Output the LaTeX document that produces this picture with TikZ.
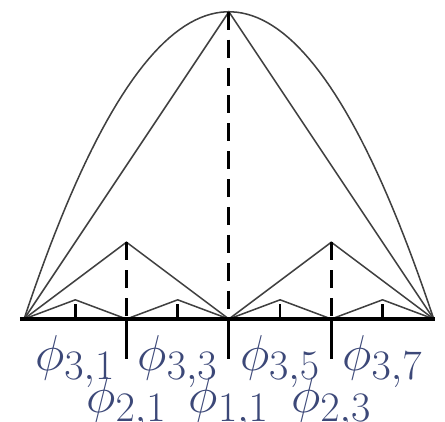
\documentclass[tikz,border=0pt]{standalone}
\usepackage{amsmath, amssymb}
\usepackage{tikz}

\definecolor{labelcol}{RGB}{60,72,120}

\begin{document}
\begin{tikzpicture}[x=1cm, y=1cm,
    hat/.style={black!75, line width=0.85pt},
    guide/.style={line width=1.7pt, dash pattern=on 10pt off 5.5pt},
    lbl/.style={anchor=base, inner sep=0pt, text=labelcol,
                font=\Huge, scale=1.125}]
        \useasboundingbox (-0.47,-2.01) rectangle (8.22,6.23);

        % parabola and its hierarchical hat functions
        \draw[hat, domain=0:8, samples=80] plot (\x, {6-6*(\x-4)^2/16});
        \draw[hat] (0,0) -- (4,6) -- (8,0);
        \foreach \m in {2,6}
            \draw[hat] (\m-2,0) -- (\m,1.5) -- (\m+2,0);
        \foreach \m in {1,3,5,7}
            \draw[hat] (\m-1,0) -- (\m,0.375) -- (\m+1,0);

        % surpluses
        \draw[guide] (4,6) -- (4,0);
        \foreach \m in {2,6}
            \draw[guide] (\m,1.5) -- (\m,0);

        % axis and ticks
        \draw[line width=1.8pt] (-0.08,0) -- (8.03,0);
        \foreach \m in {1,3,5,7}
            \draw[line width=1.4pt] (\m,0) -- (\m,0.3);
        \foreach \m in {2,4,6}
            \draw[line width=1.6pt] (\m,0) -- (\m,-0.78);

        % labels
        \foreach \k in {1,3,5,7}
            \node[lbl] (phi3\k) at (\k,-1.0) {$\phi_{3,\k}$};
        \node[lbl] (phi21) at (2,-1.82) {$\phi_{2,1}$};
        \node[lbl] (phi11) at (4,-1.82) {$\phi_{1,1}$};
        \node[lbl] (phi23) at (6,-1.82) {$\phi_{2,3}$};
    \end{tikzpicture}
\end{document}
